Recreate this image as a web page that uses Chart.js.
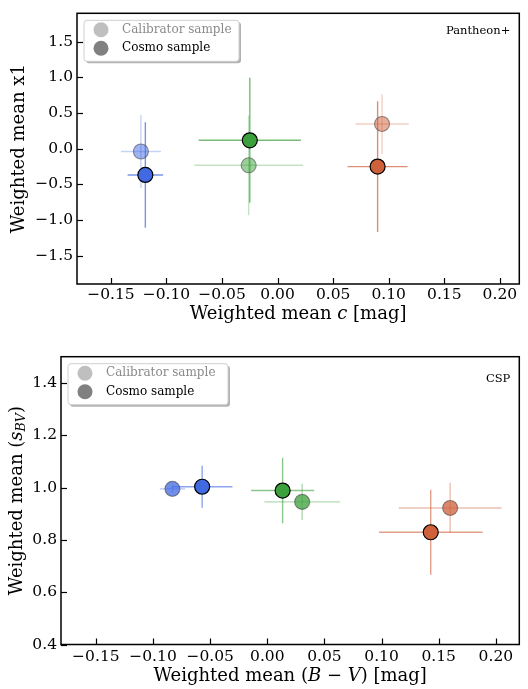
<!DOCTYPE html>
<html>
<head>
<meta charset="utf-8">
<script src="https://cdn.jsdelivr.net/npm/chart.js@4.4.1/dist/chart.umd.min.js"></script>
<style>
  html, body { margin: 0; padding: 0; background: #fff; overflow: hidden; }
  #wrap { position: relative; width: 528px; height: 689px; }
  #pantheonChart { position: absolute; left: 0; top: 0; }
  #cspChart { position: absolute; left: 0; top: 340px; }
</style>
</head>
<body>
<div id="wrap">
  <canvas id="pantheonChart" width="528" height="340"></canvas>
  <canvas id="cspChart" width="528" height="349"></canvas>
</div>
<script>
// Groups: blue, green, red (same order in every array)
const legendLabels = ['Calibrator sample', 'Cosmo sample'];

// Pantheon+ : weighted mean c vs weighted mean x1
const pantheonCalibC = [-0.123, -0.026, 0.094];
const pantheonCalibX1 = [-0.04, -0.234, 0.347];
const pantheonCalibCErr = [0.018, 0.049, 0.024];
const pantheonCalibX1Err = [0.514, 0.70, 0.417];
const pantheonCosmoC = [-0.119, -0.025, 0.090];
const pantheonCosmoX1 = [-0.369, 0.117, -0.252];
const pantheonCosmoCErr = [0.016, 0.046, 0.027];
const pantheonCosmoX1Err = [0.741, 0.878, 0.917];
const pantheonXTicks = [-0.15, -0.10, -0.05, 0, 0.05, 0.10, 0.15, 0.20];
const pantheonYTicks = [-1.5, -1.0, -0.5, 0, 0.5, 1.0, 1.5];

// CSP : weighted mean (B-V) vs weighted mean s_BV
const cspCalibBV = [-0.083, 0.0305, 0.160];
const cspCalibS = [0.995, 0.945, 0.922];
const cspCalibBVErr = [0.011, 0.033, 0.045];
const cspCalibSErr = [0.014, 0.069, 0.096];
const cspCosmoBV = [-0.057, 0.0134, 0.143];
const cspCosmoS = [1.003, 0.9885, 0.829];
const cspCosmoBVErr = [0.0265, 0.0276, 0.0453];
const cspCosmoSErr = [0.080, 0.1255, 0.162];
const cspXTicks = [-0.15, -0.10, -0.05, 0, 0.05, 0.10, 0.15, 0.20];
const cspYTicks = [0.4, 0.6, 0.8, 1.0, 1.2, 1.4];

const groupRGB = ['65,105,225', '60,160,60', '206,96,58'];
const SERIF = "'DejaVu Serif', 'Liberation Serif', serif";

function fmtTick(decimals) {
    return function (value) {
        const s = Math.abs(value).toFixed(decimals);
        return (value < -1e-9 ? '\u2212' : '') + s;
    };
}

function rgba(c, a) {
    return 'rgba(' + c + ',' + a + ')';
}

// Draw a line of text made of pieces (italic / subscript), centred on cx, cy
function drawRich(c, segs, size, cx, cy, rotate) {
    c.save();
    c.translate(cx, cy);
    if (rotate) c.rotate(-Math.PI / 2);
    let total = 0;
    const parts = segs.map(s => {
        const fs = s.sub ? size * 0.7 : size;
        const font = (s.italic ? 'italic ' : '') + fs + 'px ' + SERIF;
        c.font = font;
        const w = c.measureText(s.text).width;
        total += w;
        return { s: s, font: font, w: w };
    });
    let x = -total / 2;
    c.textBaseline = 'middle';
    c.fillStyle = '#000';
    parts.forEach(p => {
        c.font = p.font;
        c.fillText(p.s.text, x, p.s.sub ? size * 0.28 : 0);
        x += p.w;
    });
    c.restore();
}

function roundRect(c, x, y, w, h, r) {
    c.beginPath();
    c.moveTo(x + r, y);
    c.lineTo(x + w - r, y);
    c.quadraticCurveTo(x + w, y, x + w, y + r);
    c.lineTo(x + w, y + h - r);
    c.quadraticCurveTo(x + w, y + h, x + w - r, y + h);
    c.lineTo(x + r, y + h);
    c.quadraticCurveTo(x, y + h, x, y + h - r);
    c.lineTo(x, y + r);
    c.quadraticCurveTo(x, y, x + r, y);
    c.closePath();
}

// Error bars, drawn under the markers
const errorBarPlugin = {
    id: 'errorBars',
    beforeDatasetsDraw(chart) {
        const c = chart.ctx, xs = chart.scales.x, ys = chart.scales.y;
        c.save();
        c.beginPath();
        c.rect(chart.chartArea.left, chart.chartArea.top, chart.chartArea.width, chart.chartArea.height);
        c.clip();
        chart.data.datasets.forEach(ds => {
            c.lineWidth = 1.4;
            ds.data.forEach((p, i) => {
                c.strokeStyle = ds.errColors[i];
                const px = xs.getPixelForValue(p.x), py = ys.getPixelForValue(p.y);
                c.beginPath();
                c.moveTo(xs.getPixelForValue(p.x - ds.xErr[i]), py);
                c.lineTo(xs.getPixelForValue(p.x + ds.xErr[i]), py);
                c.stroke();
                c.beginPath();
                c.moveTo(px, ys.getPixelForValue(p.y - ds.yErr[i]));
                c.lineTo(px, ys.getPixelForValue(p.y + ds.yErr[i]));
                c.stroke();
            });
        });
        c.restore();
    }
};

// Axes box, inward ticks, axis titles, legend box and panel tag
const decorPlugin = {
    id: 'decor',
    afterDraw(chart, args, opts) {
        const c = chart.ctx, a = chart.chartArea;
        const xs = chart.scales.x, ys = chart.scales.y;
        c.save();
        c.strokeStyle = '#000';
        c.lineWidth = 1.2;
        xs.ticks.forEach(t => {
            const x = Math.round(xs.getPixelForValue(t.value)) + 0.5;
            c.beginPath(); c.moveTo(x, a.bottom); c.lineTo(x, a.bottom - 6); c.stroke();
        });
        ys.ticks.forEach(t => {
            const y = Math.round(ys.getPixelForValue(t.value)) + 0.5;
            c.beginPath(); c.moveTo(a.left, y); c.lineTo(a.left + 6, y); c.stroke();
        });
        c.lineWidth = 1.5;
        c.strokeRect(a.left, a.top, a.width, a.height);

        drawRich(c, opts.xTitle, 18, (a.left + a.right) / 2, opts.xTitleY, false);
        drawRich(c, opts.yTitle, 18, opts.yTitleX, (a.top + a.bottom) / 2, true);

        // legend
        const bx = a.left + 7, by = a.top + 7, bw = opts.legendWidth, bh = 41;
        c.fillStyle = 'rgba(0,0,0,0.3)';
        roundRect(c, bx + 2, by + 2, bw, bh, 3); c.fill();
        c.fillStyle = '#fff';
        c.strokeStyle = '#cfcfcf';
        c.lineWidth = 1;
        roundRect(c, bx, by, bw, bh, 3); c.fill(); c.stroke();
        const marker = ['#bfbfbf', '#808080'];
        const textCol = ['#8a8a8a', '#000'];
        [9.5, 28].forEach((dy, k) => {
            c.beginPath();
            c.arc(bx + 17, by + dy, 7.5, 0, Math.PI * 2);
            c.fillStyle = marker[k];
            c.fill();
            c.font = '12px ' + SERIF;
            c.fillStyle = textCol[k];
            c.textBaseline = 'middle';
            c.textAlign = 'left';
            c.fillText(legendLabels[k], bx + 38, by + dy);
        });

        c.font = '11.5px ' + SERIF;
        c.fillStyle = '#000';
        c.textAlign = 'right';
        c.textBaseline = 'middle';
        c.fillText(opts.tag, a.right - 9, a.top + opts.tagDy);
        c.restore();
    }
};

function buildChart(canvasId, p) {
    const canvas = document.getElementById(canvasId);
    const W = canvas.width, H = canvas.height;
    return new Chart(canvas, {
        type: 'scatter',
        data: {
            datasets: [{
                label: legendLabels[0],
                data: p.calibX.map((v, i) => ({ x: v, y: p.calibY[i] })),
                xErr: p.calibXErr,
                yErr: p.calibYErr,
                errColors: groupRGB.map(g => rgba(g, p.calibErrAlpha)),
                backgroundColor: groupRGB.map(g => rgba(g, p.calibAlpha)),
                borderColor: 'rgba(60,60,60,0.55)',
                borderWidth: 1.1,
                pointRadius: 7.5
            }, {
                label: legendLabels[1],
                data: p.cosmoX.map((v, i) => ({ x: v, y: p.cosmoY[i] })),
                xErr: p.cosmoXErr,
                yErr: p.cosmoYErr,
                errColors: groupRGB.map(g => rgba(g, p.cosmoErrAlpha)),
                backgroundColor: groupRGB.map(g => rgba(g, 1)),
                borderColor: '#000',
                borderWidth: 1.2,
                pointRadius: 7.5
            }]
        },
        options: {
            responsive: false,
            animation: false,
            events: [],
            layout: { padding: { top: p.area.top, right: W - p.area.right, left: 0, bottom: 0 } },
            scales: {
                x: {
                    type: 'linear',
                    min: p.xMin,
                    max: p.xMax,
                    grid: { display: false, drawTicks: false },
                    border: { display: false },
                    ticks: {
                        font: { family: SERIF, size: 15.5 },
                        color: '#000',
                        padding: p.xPad,
                        maxRotation: 0,
                        autoSkip: false,
                        callback: fmtTick(2)
                    },
                    afterBuildTicks: s => { s.ticks = p.xTicks.map(v => ({ value: v })); },
                    afterFit: s => { s.height = H - p.area.bottom; }
                },
                y: {
                    type: 'linear',
                    min: p.yMin,
                    max: p.yMax,
                    grid: { display: false, drawTicks: false },
                    border: { display: false },
                    ticks: {
                        font: { family: SERIF, size: 15.5 },
                        color: '#000',
                        padding: 4,
                        autoSkip: false,
                        callback: fmtTick(1)
                    },
                    afterBuildTicks: s => { s.ticks = p.yTicks.map(v => ({ value: v })); },
                    afterFit: s => { s.width = p.area.left; }
                }
            },
            plugins: {
                legend: { display: false },
                tooltip: { enabled: false },
                decor: p.decor
            }
        },
        plugins: [errorBarPlugin, decorPlugin]
    });
}

var pantheonChart = buildChart('pantheonChart', {
    calibX: pantheonCalibC, calibY: pantheonCalibX1, calibXErr: pantheonCalibCErr, calibYErr: pantheonCalibX1Err,
    cosmoX: pantheonCosmoC, cosmoY: pantheonCosmoX1, cosmoXErr: pantheonCosmoCErr, cosmoYErr: pantheonCosmoX1Err,
    xTicks: pantheonXTicks, yTicks: pantheonYTicks,
    xMin: -0.1805, xMax: 0.2175, yMin: -1.9, yMax: 1.9,
    calibAlpha: 0.5, calibErrAlpha: 0.3, cosmoErrAlpha: 0.7,
    area: { left: 77, top: 3, right: 527, bottom: 284 },
    xPad: 2,
    decor: {
        xTitle: [{ text: 'Weighted mean ' }, { text: 'c', italic: true }, { text: ' [mag]' }],
        yTitle: [{ text: 'Weighted mean x1' }],
        xTitleY: 314, yTitleX: 19.5,
        legendWidth: 155,
        tag: 'Pantheon+', tagDy: 18
    }
});

var cspChart = buildChart('cspChart', {
    calibX: cspCalibBV, calibY: cspCalibS, calibXErr: cspCalibBVErr, calibYErr: cspCalibSErr,
    cosmoX: cspCosmoBV, cosmoY: cspCosmoS, cosmoXErr: cspCosmoBVErr, cosmoYErr: cspCosmoSErr,
    xTicks: cspXTicks, yTicks: cspYTicks,
    xMin: -0.1805, xMax: 0.2205, yMin: 0.4, yMax: 1.5,
    calibAlpha: 0.75, calibErrAlpha: 0.4, cosmoErrAlpha: 0.6,
    area: { left: 61, top: 16.7, right: 526, bottom: 304.5 },
    xPad: 3,
    decor: {
        xTitle: [{ text: 'Weighted mean (' }, { text: 'B', italic: true }, { text: ' \u2212 ' }, { text: 'V', italic: true }, { text: ') [mag]' }],
        yTitle: [{ text: 'Weighted mean (' }, { text: 's', italic: true }, { text: 'BV', italic: true, sub: true }, { text: ')' }],
        xTitleY: 336.7, yTitleX: 17,
        legendWidth: 160,
        tag: 'CSP', tagDy: 22
    }
});
</script>
</body>
</html>
